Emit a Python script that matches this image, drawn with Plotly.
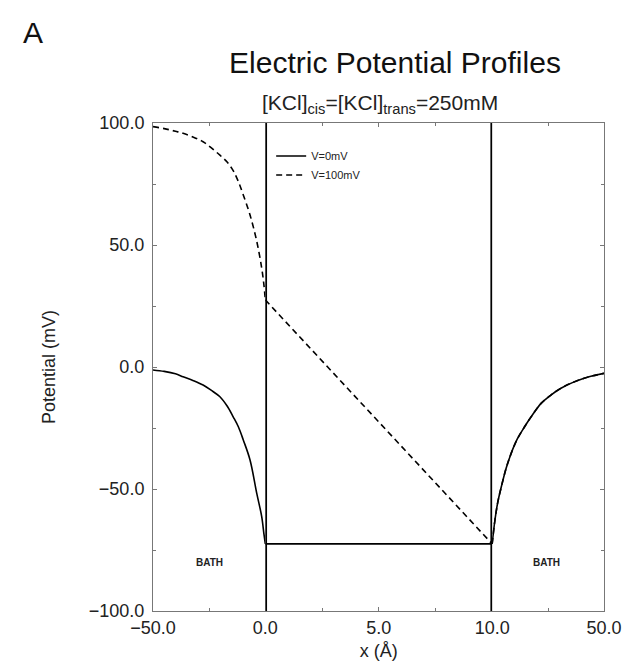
import plotly.graph_objects as go

# ---- data ----
# left (cis) bath, x in Å
x_left = [-50, -45, -40, -36.6, -32, -27.7, -24, -20.2, -17, -14.3, -12, -9.8, -6.8, -3.8, -1.6, -0.6, 0]
v0_left = [-1.2, -1.8, -2.8, -4.0, -5.6, -7.4, -9.6, -12.2, -16, -20.4, -24.5, -29.9, -38.1, -51.8, -61.3, -68.5, -72.5]
v100_left = [98.5, 97.7, 96.6, 95.8, 94.2, 92.3, 89.8, 86.8, 84, 80.5, 76, 70.5, 62.3, 51.5, 40.5, 33.5, 27.5]

# membrane, x in Å
x_mem = [0, 10]
v0_mem = [-72.5, -72.5]
v100_mem = [27.5, -72.5]

# right (trans) bath, x in Å
x_right = [10, 11, 12, 13.3, 15, 16.8, 19, 21.6, 24.5, 27.5, 31, 34.6, 38.5, 42.9, 46, 50]
v0_right = [-72.5, -62.7, -55.5, -49, -41.5, -35.4, -29.5, -24.5, -19.5, -14.9, -11.5, -8.7, -6.5, -4.6, -3.6, -2.6]
v100_right = v0_right

membrane_edges = [0, 10]
left_ticks = [-50]
mem_ticks = [0, 5, 10]
right_ticks = [50]
y_ticks = [-100, -50, 0, 50, 100]

names = ["V=0mV", "V=100mV"]
dashes = ["solid", "6px,4px"]

FONT = "Liberation Sans, Arial, sans-serif"
AXC = "#777777"
TXT = "#222222"

fig = go.Figure()

series = [(v0_left, v0_mem, v0_right), (v100_left, v100_mem, v100_right)]
for i, (yl, ym, yr) in enumerate(series):
    line = dict(color="black", width=1.6, dash=dashes[i])
    fig.add_trace(go.Scatter(x=x_left, y=yl, mode="lines", line=line, line_shape="spline",
                             xaxis="x", yaxis="y", showlegend=False, legendgroup=names[i], name=names[i]))
    fig.add_trace(go.Scatter(x=x_mem, y=ym, mode="lines", line=line,
                             xaxis="x2", yaxis="y", showlegend=True, legendgroup=names[i], name=names[i]))
    fig.add_trace(go.Scatter(x=x_right, y=yr, mode="lines", line=line, line_shape="spline",
                             xaxis="x3", yaxis="y2", showlegend=False, legendgroup=names[i], name=names[i]))

# membrane boundaries
for xe in membrane_edges:
    fig.add_shape(type="line", xref="x2", yref="y domain", x0=xe, x1=xe, y0=0, y1=1,
                  layer="above", line=dict(color="black", width=3.5))

d1, d2 = 0.249, 0.752
tickfont = dict(family=FONT, size=18, color=TXT)
xcommon = dict(showline=True, linecolor=AXC, linewidth=1, mirror="ticks", ticks="inside",
               ticklen=4, tickcolor=AXC, showgrid=False, zeroline=False, tickformat=".1f",
               tickfont=tickfont, anchor="y", automargin=False)

fig.update_layout(
    width=624, height=661,
    margin=dict(l=153, r=20, t=123, b=50),
    paper_bgcolor="white", plot_bgcolor="white",
    font=dict(family=FONT, color=TXT),
    xaxis=dict(domain=[0, d1], range=[-50, 0], tickvals=left_ticks,
               minor=dict(tickvals=[-25], ticks="inside", ticklen=3, tickcolor=AXC), **xcommon),
    xaxis2=dict(domain=[d1, d2], range=[0, 10], tickvals=mem_ticks,
                minor=dict(tickvals=[2.5, 7.5], ticks="inside", ticklen=3, tickcolor=AXC),
                title=dict(text="x (Å)", font=dict(family=FONT, size=18, color=TXT), standoff=10),
                **xcommon),
    xaxis3=dict(domain=[d2, 1], range=[10, 50], tickvals=right_ticks,
                minor=dict(tickvals=[30], ticks="inside", ticklen=3, tickcolor=AXC), **xcommon),
    yaxis=dict(domain=[0, 1], range=[-100, 100], tickvals=y_ticks, tickformat=".1f",
               anchor="x", showline=True, linecolor=AXC, linewidth=1, ticks="inside",
               ticklen=4, tickcolor=AXC, showgrid=False, zeroline=False, tickfont=tickfont,
               ticklabelstandoff=4, automargin=False,
               minor=dict(dtick=25, ticks="inside", ticklen=3, tickcolor=AXC),
               title=dict(text="Potential (mV)", font=dict(family=FONT, size=18, color=TXT),
                          standoff=28)),
    yaxis2=dict(matches="y", overlaying="y", side="right", anchor="x3", showticklabels=False,
                showline=True, linecolor=AXC, linewidth=1, ticks="inside", ticklen=4,
                tickcolor=AXC, tickvals=y_ticks, showgrid=False, zeroline=False, automargin=False,
                minor=dict(dtick=25, ticks="inside", ticklen=3, tickcolor=AXC)),
    legend=dict(x=0.262, y=0.962, xanchor="left", yanchor="top", bgcolor="rgba(0,0,0,0)",
                font=dict(family=FONT, size=11, color=TXT), itemwidth=30,
                tracegroupgap=0),
    title=dict(text="Electric Potential Profiles", x=0.633, xref="container", xanchor="center",
               y=1 - 62 / 661, yref="container", yanchor="middle",
               font=dict(family=FONT, size=30, color="#111111")),
)

fig.add_annotation(text="[KCl]<sub>cis</sub>=[KCl]<sub>trans</sub>=250mM", xref="paper", yref="paper",
                   x=0.503, y=1.038, showarrow=False, xanchor="center", yanchor="middle",
                   font=dict(family=FONT, size=21, color=TXT))
fig.add_annotation(text="A", xref="paper", yref="paper", x=-0.266, y=1.186, showarrow=False,
                   xanchor="center", yanchor="middle", font=dict(family=FONT, size=30, color="#111111"))
fig.add_annotation(text="<b>BATH</b>", xref="x", yref="y", x=-25, y=-80, showarrow=False,
                   font=dict(family=FONT, size=10, color=TXT))
fig.add_annotation(text="<b>BATH</b>", xref="x3", yref="y", x=29.5, y=-80, showarrow=False,
                   font=dict(family=FONT, size=10, color=TXT))

fig.write_html("out.html")
